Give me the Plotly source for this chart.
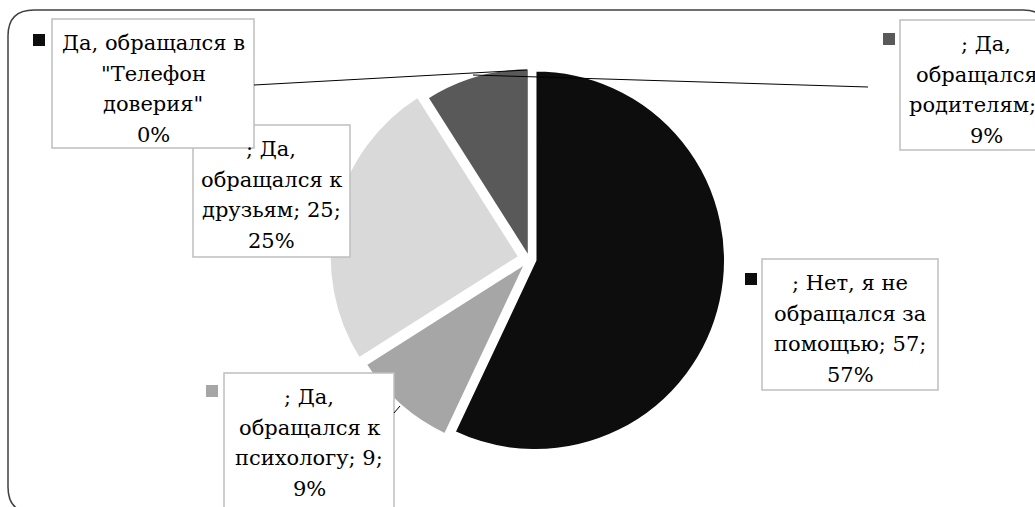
import plotly.graph_objects as go

W, H = 1035, 507

# ---- data ----
categories = ["Нет, я не обращался за помощью", "Да, обращался к психологу",
              "Да, обращался к друзьям", "Да, обращался к родителям",
              "Да, обращался в \"Телефон доверия\""]
values = [57, 9, 25, 9, 0]
colors = ["#0d0d0d", "#a6a6a6", "#d9d9d9", "#595959", "#0d0d0d"]
pulls = [0.032, 0.026, 0.053, 0.005, 0.0]

# label line texts (as printed in the data labels)
label_lines = [
    ["; Нет, я не", "обращался за", f"помощью; {values[0]};", f"{values[0]}%"],
    ["; Да,", "обращался к", f"психологу; {values[1]};", f"{values[1]}%"],
    ["; Да,", "обращался к", f"друзьям; {values[2]};", f"{values[2]}%"],
    ["; Да,", "обращался к", f"родителям; {values[3]};", f"{values[3]}%"],
    ["Да, обращался в", "\"Телефон", "доверия\"", f"{values[4]}%"],
]

FONT = "DejaVu Serif, Liberation Serif, serif"


def X(px):
    return px / W


def Y(py):
    return 1 - py / H


# pie geometry (pixels)
cx, cy, R = 529.3, 259, 190
Rd = R * (1 + max(pulls))

fig = go.Figure(go.Pie(
    labels=categories, values=values, sort=False, direction="clockwise",
    rotation=0, textinfo="none", hoverinfo="label+value+percent",
    marker=dict(colors=colors, line=dict(color="white", width=2.5)),
    pull=pulls,
    domain=dict(x=[X(cx - Rd), X(cx + Rd)], y=[Y(cy + Rd), Y(cy - Rd)]),
    showlegend=False,
))

shapes = []
# outer rounded frame (partially outside the picture)
L, T, Rr, B, r = 8, 10, 1049, 513, 26
path = (f"M {X(L)},{Y(T + r)} L {X(L)},{Y(B - r)} Q {X(L)},{Y(B)} {X(L + r)},{Y(B)} "
        f"L {X(Rr - r)},{Y(B)} Q {X(Rr)},{Y(B)} {X(Rr)},{Y(B - r)} "
        f"L {X(Rr)},{Y(T + r)} Q {X(Rr)},{Y(T)} {X(Rr - r)},{Y(T)} "
        f"L {X(L + r)},{Y(T)} Q {X(L)},{Y(T)} {X(L)},{Y(T + r)} Z")
shapes.append(dict(type="path", path=path, xref="paper", yref="paper",
                   line=dict(color="#404040", width=1.5), layer="below"))

# label boxes: (left, top, right, bottom, text center x), in order of categories
boxes = [
    (762, 259, 938, 390, 850),
    (224, 373, 394, 520, 309),
    (193, 125, 350, 257, 271),
    (900, 20, 1072, 150, 986),
    (52, 19, 254, 148, 153),
]
keys = [
    (745, 273),
    (206, 385),
    None,
    (883, 33),
    (33, 34),
]

draw_order = [2, 4, 0, 1, 3]
for i in draw_order:
    l, t, rr, b, _ = boxes[i]
    shapes.append(dict(type="rect", xref="paper", yref="paper",
                       x0=X(l), x1=X(rr), y0=Y(b), y1=Y(t),
                       fillcolor="white", line=dict(color="#bfbfbf", width=1.5),
                       layer="above"))

for i, k in enumerate(keys):
    if k is None:
        continue
    kx, ky = k
    shapes.append(dict(type="rect", xref="paper", yref="paper",
                       x0=X(kx), x1=X(kx + 12), y0=Y(ky + 12), y1=Y(ky),
                       fillcolor=colors[i], line=dict(width=0), layer="above"))

# leader lines
leaders = [
    ((254, 85), (527, 70)),
    ((473, 75), (868, 87)),
    ((394, 413), (400, 406)),
]
for (x0, y0), (x1, y1) in leaders:
    shapes.append(dict(type="line", xref="paper", yref="paper",
                       x0=X(x0), y0=Y(y0), x1=X(x1), y1=Y(y1),
                       line=dict(color="black", width=1), layer="above"))

annotations = []
for i, lines in enumerate(label_lines):
    l, t, rr, b, tx = boxes[i]
    for j, txt in enumerate(lines):
        base = t + 31 + j * 30.7
        annotations.append(dict(
            x=X(tx), y=Y(base - 7), xref="paper", yref="paper",
            text=txt, showarrow=False, xanchor="center", yanchor="middle",
            font=dict(family=FONT, size=21, color="black"),
        ))

fig.update_layout(
    width=W, height=H, margin=dict(l=0, r=0, t=0, b=0),
    paper_bgcolor="white", plot_bgcolor="white",
    shapes=shapes, annotations=annotations,
    font=dict(family=FONT),
)

fig.write_html("out.html", config={"displayModeBar": False},
               post_script="document.body.style.margin='0';document.body.style.overflow='hidden';")
